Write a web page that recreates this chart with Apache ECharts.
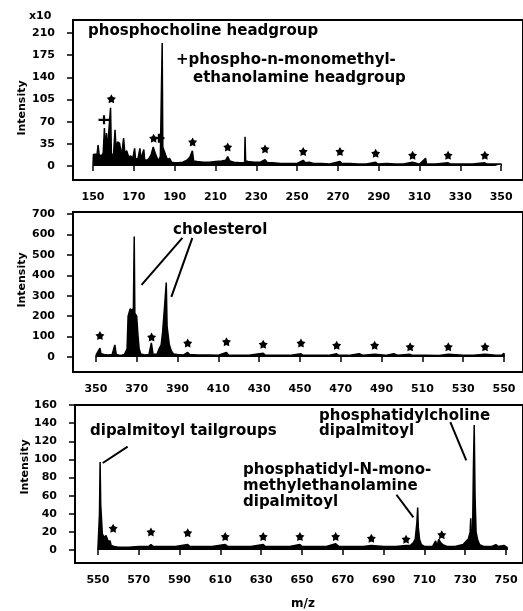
<!DOCTYPE html>
<html>
<head>
    <meta charset="utf-8">
    <title>Spectra</title>
    <script src="https://cdn.jsdelivr.net/npm/echarts@6/dist/echarts.min.js"></script>
    <style>
        html, body { margin: 0; padding: 0; background: #fff; }
        #chart { width: 523px; height: 611px; }
    </style>
</head>
<body>
    <div id="chart"></div>
    <script>
        // ---- panel 1: headgroup region (intensity x10) ----
        var headSpectrum = [
            [150, 0], [150.2, 18], [151, 17], [152, 19], [152.5, 33], [153, 18], [154, 16], [155, 20],
            [155.6, 60], [156, 18], [156.6, 52], [157, 22], [158.6, 92], [159, 20], [160, 15], [160.8, 57],
            [161.4, 20], [162, 38], [163, 36], [163.6, 38], [164, 16], [165, 44], [165.6, 20], [166.5, 24],
            [167.5, 14], [168.5, 16], [169.5, 12], [170.4, 28], [170.8, 12], [172, 11], [173, 28], [173.4, 11],
            [174.9, 26], [175.3, 10], [176.5, 9], [177.5, 12], [178.5, 18], [179.5, 30], [180.5, 20], [181.5, 12],
            [182, 8], [183, 15], [183.9, 194], [184.2, 30], [184.8, 32], [185.5, 18], [186.5, 10], [187.5, 12],
            [188.5, 6], [190, 5], [192, 5], [194, 6], [196, 9], [197.5, 14], [198.7, 24], [199.3, 8], [201, 7],
            [204, 6], [207, 6], [210, 7], [213, 8], [215, 9], [216, 15], [217, 8], [219, 6], [222, 5],
            [224.3, 5], [224.5, 46], [224.8, 8], [226, 7], [229, 6], [232, 6], [234.3, 10], [235.5, 5],
            [238, 5], [242, 4], [246, 4], [250, 4], [253, 9], [254, 5], [256, 6], [258, 4], [262, 4],
            [266, 3], [271, 7], [272, 4], [276, 4], [280, 3], [284, 3], [288.5, 6], [289.5, 3], [294, 4],
            [298, 3], [302, 3], [306.6, 6], [307.5, 3], [310, 3], [313, 12], [313.4, 3], [318, 3], [324, 5],
            [325, 3], [330, 3], [336, 3], [342, 5], [343, 3], [347, 3], [350, 3], [350.1, 0]
        ];
        var headStars = [[159, 106], [179.7, 44], [198.8, 38], [216, 30], [234.3, 27], [253, 23],
                         [271, 23], [288.5, 20], [306.6, 17], [324, 17], [342, 17]];
        var headPlus = [[155.4, 73], [182.3, 44]];
        var headXTicks = [150, 170, 190, 210, 230, 250, 270, 290, 310, 330, 350];
        var headYTicks = [0, 35, 70, 105, 140, 175, 210];

        // ---- panel 2: cholesterol region ----
        var cholSpectrum = [
            [350, 0], [350.2, 12], [351, 15], [352, 44], [352.5, 16], [354, 12], [356, 10], [358, 12],
            [359.3, 59], [360, 12], [362, 8], [364, 12], [365.3, 40], [365.8, 200], [366.8, 235], [367.8, 228],
            [368.4, 240], [368.8, 590], [369.1, 215], [370, 200], [370.6, 110], [371.2, 40], [372, 15], [374, 10],
            [376, 12], [377.2, 69], [378, 15], [380, 14], [381, 40], [382, 60], [382.7, 120], [383.4, 125],
            [383.8, 265], [384.5, 365], [384.9, 150], [386, 60], [387, 30], [388, 15], [390, 12], [393, 10],
            [395, 22], [396, 12], [400, 10], [405, 10], [410, 9], [414, 22], [415, 10], [420, 9], [425, 9],
            [432, 18], [433, 9], [440, 9], [445, 8], [450.5, 16], [451.5, 8], [458, 8], [464, 8], [468, 16],
            [469, 8], [474, 8], [479, 16], [481, 8], [486.6, 14], [487.5, 8], [492, 8], [496, 16], [498, 8],
            [504, 13], [505, 8], [512, 8], [518, 7], [522.7, 13], [523.5, 8], [530, 8], [535, 8], [540.7, 13],
            [541.5, 8], [546, 8], [549, 10], [550, 18], [550.1, 0]
        ];
        var cholStars = [[352, 105], [377.3, 98], [395, 68], [414, 75], [432, 62], [450.5, 68],
                         [468, 57], [486.6, 57], [504, 50], [522.7, 50], [540.7, 50]];
        var cholXTicks = [350, 370, 390, 410, 430, 450, 470, 490, 510, 530, 550];
        var cholYTicks = [0, 100, 200, 300, 400, 500, 600, 700];

        // ---- panel 3: lipid region ----
        var lipidSpectrum = [
            [550, 0], [550.2, 10], [550.8, 40], [551.1, 97], [551.4, 50], [551.8, 52], [552.2, 18], [553, 14],
            [554, 16], [555, 10], [556, 10], [556.5, 5], [558, 4], [560, 3], [565, 3], [570, 4], [575, 4],
            [576, 6], [577, 4], [582, 4], [588, 4], [594, 6], [595, 4], [600, 4], [606, 4], [612.4, 6],
            [613.5, 4], [620, 4], [625, 4], [631, 6], [632, 4], [638, 4], [644, 4], [649, 6], [650, 4],
            [656, 4], [662, 4], [666.5, 7], [668, 4], [674, 4], [680, 4], [684, 5], [690, 4], [696, 4],
            [701, 5], [703, 5], [704.5, 8], [705.5, 12], [706.3, 30], [706.7, 47], [707, 25], [707.6, 12],
            [708.5, 6], [710, 4], [714, 4], [715.5, 10], [716.2, 4], [717, 12], [718, 8], [719, 6], [721, 4],
            [725, 4], [729, 6], [730.5, 10], [731.5, 12], [732.4, 20], [732.7, 35], [733, 14], [733.6, 20],
            [734, 90], [734.4, 138], [734.8, 60], [735.3, 20], [736, 12], [737, 6], [739, 4], [743, 4],
            [745, 6], [746, 4], [749, 5], [750.5, 3], [750.6, 0]
        ];
        var lipidStars = [[557.5, 24], [576, 20], [594, 19], [612.4, 15], [631, 15], [649, 15],
                          [666.5, 15], [684, 13], [701, 12], [718.5, 17]];
        var lipidXTicks = [550, 570, 590, 610, 630, 650, 670, 690, 710, 730, 750];
        var lipidYTicks = [0, 20, 40, 60, 80, 100, 120, 140, 160];

        // leader lines from the labels to the peaks, in data units
        var cholLeaders = [[[392.4, 583], [372.4, 353]], [[397.3, 583], [387, 294]]];
        var lipidLeaders = [[[564.6, 114], [552.4, 96]], [[722.7, 141], [730.5, 99]], [[696.3, 61], [704.6, 36]]];

        var FONT = 'DejaVu Sans';
        var STAR = 'path://M0,-10L3.23,-4.45L9.51,-3.09L5.23,1.7L5.88,8.09L0,5.5L-5.88,8.09L-5.23,1.7L-9.51,-3.09L-3.23,-4.45Z';
        var PLUS = 'path://M0,3.6L12,3.6L12,6L0,6Z M4.8,0L7.2,0L7.2,9.6L4.8,9.6Z';

        var chart = echarts.init(document.getElementById('chart'));

        var grids = [], xAxes = [], yAxes = [], series = [];

        function addPanel(box, xr, yr, xTicks, yTicks, spectrum, stars, leaders) {
            var i = grids.length;
            grids.push({
                left: box[0], top: box[1], width: box[2], height: box[3],
                show: true, borderColor: '#000', borderWidth: 2, backgroundColor: 'transparent'
            });
            xAxes.push({
                gridIndex: i, type: 'value', min: xr[0], max: xr[1], position: 'bottom',
                axisLine: { show: false },
                axisTick: { show: true, inside: false, length: 5, customValues: xTicks,
                            lineStyle: { color: '#000', width: 1.5 } },
                axisLabel: { customValues: xTicks, margin: 12, color: '#000',
                             fontFamily: FONT, fontWeight: 'bold', fontSize: 11 },
                splitLine: { show: false }
            });
            yAxes.push({
                gridIndex: i, type: 'value', min: yr[0], max: yr[1],
                axisLine: { show: false },
                axisTick: { show: true, inside: false, length: 6, customValues: yTicks,
                            lineStyle: { color: '#000', width: 1.5 } },
                axisLabel: { customValues: yTicks, margin: 18, color: '#000',
                             fontFamily: FONT, fontWeight: 'bold', fontSize: 11 },
                splitLine: { show: false }
            });
            var s = {
                type: 'line', xAxisIndex: i, yAxisIndex: i, data: spectrum,
                symbol: 'none', lineStyle: { color: '#000', width: 1.5 },
                areaStyle: { color: '#000', opacity: 1 }, silent: true
            };
            if (leaders) {
                s.markLine = {
                    silent: true, symbol: ['none', 'none'], label: { show: false },
                    lineStyle: { color: '#000', width: 2, type: 'solid' },
                    data: leaders.map(function (l) { return [{ coord: l[0] }, { coord: l[1] }]; })
                };
            }
            series.push(s);
            series.push({
                type: 'scatter', xAxisIndex: i, yAxisIndex: i, data: stars,
                symbol: STAR, symbolSize: 9, itemStyle: { color: '#000', opacity: 1 }, silent: true
            });
            return i;
        }

        addPanel([73, 20, 452, 160], [140.2, 360.7], [-22.1, 230.5], headXTicks, headYTicks, headSpectrum, headStars);
        series.push({
            type: 'scatter', xAxisIndex: 0, yAxisIndex: 0, data: headPlus,
            symbol: PLUS, symbolSize: [11, 9], itemStyle: { color: '#000', opacity: 1 }, silent: true
        });
        addPanel([73, 212, 452, 160], [338.8, 559.3], [-73.4, 709.7], cholXTicks, cholYTicks, cholSpectrum, cholStars, cholLeaders);
        addPanel([75, 405, 450, 158], [538.8, 758.3], [-14.3, 160], lipidXTicks, lipidYTicks, lipidSpectrum, lipidStars, lipidLeaders);

        function txt(str, x, y, size) {
            return { type: 'text', left: x, top: y - size * 0.6, silent: true,
                     style: { text: str, fill: '#000', font: 'bold ' + size + 'px "' + FONT + '"' } };
        }
        function vtxt(str, x, y) {
            return { type: 'text', x: x, y: y, rotation: Math.PI / 2, silent: true,
                     style: { text: str, fill: '#000', font: 'bold 11px "' + FONT + '"',
                              align: 'center', verticalAlign: 'middle' } };
        }

        var graphics = [
            txt('x10', 29, 17, 11),
            vtxt('Intensity', 22, 108),
            vtxt('Intensity', 22, 280),
            vtxt('Intensity', 25, 467),
            txt('phosphocholine headgroup', 88, 33, 15),
            txt('+phospho-n-monomethyl-', 176, 62, 15),
            txt('ethanolamine headgroup', 193, 80, 15),
            txt('cholesterol', 173, 232, 15),
            txt('dipalmitoyl tailgroups', 90, 433, 15),
            txt('phosphatidylcholine', 319, 418, 15),
            txt('dipalmitoyl', 319, 433, 15),
            txt('phosphatidyl-N-mono-', 243, 472, 15),
            txt('methylethanolamine', 243, 488, 15),
            txt('dipalmitoyl', 243, 504, 15),
            txt('m/z', 291, 605, 12)
        ];

        chart.setOption({
            animation: false,
            backgroundColor: '#fff',
            grid: grids,
            xAxis: xAxes,
            yAxis: yAxes,
            series: series,
            graphic: graphics
        });
    </script>
</body>
</html>
